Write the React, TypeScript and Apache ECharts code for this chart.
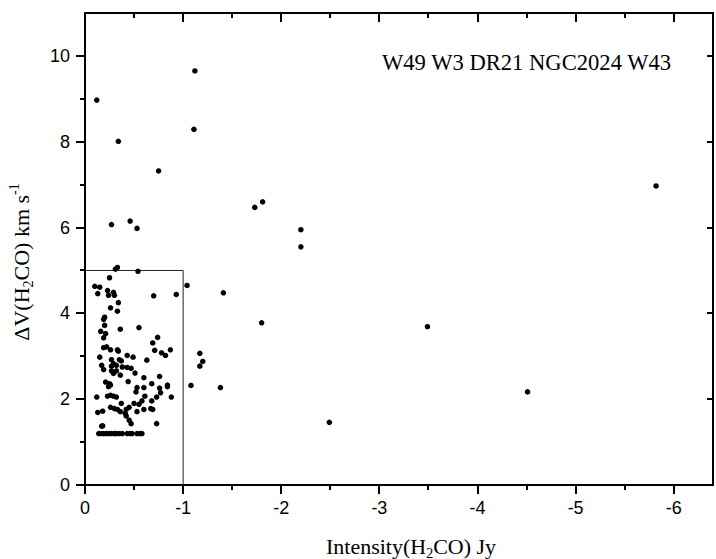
import React, { useEffect, useRef } from "react";
import * as echarts from "echarts";

// Intensity(H2CO) in Jy (negative, absorption) and line width in km/s
const intensityJy = [
  -0.12, -1.12, -1.11, -0.34, -0.75, -0.27, -0.46, -0.53, -1.73, -1.81, -2.2, -2.2, -5.82,
  -1.41, -1.8, -3.49, -1.2, -1.17, -1.17, -1.38, -4.51, -2.49, -1.08,
  -0.31, -0.33, -0.54, -0.25, -1.04, -0.1, -0.15, -0.13, -0.23, -0.29, -0.24, -0.3, -0.7, -0.93,
  -0.34, -0.26, -0.33, -0.2, -0.19, -0.2, -0.36, -0.55, -0.16, -0.21, -0.19, -0.74, -0.69,
  -0.19, -0.22, -0.26, -0.33, -0.34, -0.71, -0.78, -0.82, -0.87, -0.43, -0.49, -0.15,
  -0.27, -0.29, -0.35, -0.37, -0.63, -0.17, -0.27, -0.32, -0.38, -0.43, -0.47, -0.19,
  -0.27, -0.32, -0.29, -0.36, -0.51, -0.6, -0.76, -0.21, -0.25, -0.44, -0.68, -0.24, -0.26,
  -0.53, -0.6, -0.76, -0.84, -0.84, -0.52, -0.77, -0.26, -0.29, -0.32, -0.23, -0.12, -0.61,
  -0.73, -0.88, -0.58, -0.55, -0.5, -0.68, -0.37, -0.26, -0.3, -0.33, -0.36, -0.41, -0.42,
  -0.45, -0.6, -0.67, -0.13, -0.18, -0.53, -0.69, -0.42, -0.45, -0.47, -0.73, -0.18, -0.17,
  -0.14, -0.165, -0.19, -0.22, -0.245, -0.27, -0.3, -0.32, -0.35, -0.38, -0.43, -0.46, -0.48,
  -0.53, -0.56, -0.58,
];
const deltaVKms = [
  8.97, 9.65, 8.29, 8.01, 7.32, 6.07, 6.15, 5.98, 6.47, 6.6, 5.95, 5.55, 6.97,
  4.48, 3.78, 3.69, 2.88, 2.77, 3.07, 2.27, 2.17, 1.46, 2.32,
  5.03, 5.07, 4.98, 4.83, 4.65, 4.63, 4.61, 4.46, 4.53, 4.49, 4.42, 4.42, 4.41, 4.44,
  4.25, 4.13, 4.05, 3.91, 3.86, 3.72, 3.63, 3.67, 3.58, 3.53, 3.43, 3.44, 3.31,
  3.2, 3.22, 3.15, 3.15, 3.12, 3.14, 3.08, 3.02, 3.15, 3.02, 2.98, 2.98,
  2.92, 2.83, 2.92, 2.89, 2.91, 2.79, 2.77, 2.79, 2.75, 2.74, 2.72, 2.69,
  2.66, 2.66, 2.6, 2.56, 2.61, 2.5, 2.53, 2.4, 2.36, 2.41, 2.36, 2.29, 2.33,
  2.27, 2.27, 2.26, 2.29, 2.33, 2.17, 2.15, 2.09, 2.07, 2.05, 2.07, 2.05, 2.07,
  2.05, 2.05, 1.96, 1.88, 1.9, 1.96, 1.9, 1.81, 1.78, 1.76, 1.71, 1.67, 1.76,
  1.81, 1.76, 1.78, 1.69, 1.72, 1.71, 1.76, 1.61, 1.51, 1.43, 1.43, 1.38, 1.37,
  1.2, 1.2, 1.2, 1.2, 1.2, 1.2, 1.2, 1.2, 1.2, 1.2, 1.2, 1.2, 1.2,
  1.2, 1.2, 1.2,
];

// Selection box (intensity, deltaV corners)
const boxIntensity = [0, -1, -1];
const boxDeltaV = [5, 5, 0];

// Tick positions (|intensity| in Jy along x, deltaV along y)
const xMajorTicks = [0, 1, 2, 3, 4, 5, 6];
const xMinorTicks = [0.5, 1.5, 2.5, 3.5, 4.5, 5.5];
const yMajorTicks = [0, 2, 4, 6, 8, 10];
const yMinorTicks = [1, 3, 5, 7, 9];

const sourcesLabel = "W49 W3 DR21 NGC2024 W43";
const X_MAX = 6.4;
const Y_MAX = 11;

export default function App() {
  const ref = useRef<HTMLDivElement>(null);
  useEffect(() => {
    if (!ref.current) return;
    const chart = echarts.init(ref.current, null, { renderer: "svg" });
    const black = "#000";
    const lineW = 2;
    const sans = "'Liberation Sans', Arial, sans-serif";
    const serif = "'Liberation Serif', 'Times New Roman', serif";
    const fmtX = (v: number) => (v > 6.2 ? "" : v === 0 ? "0" : "-" + v);
    const fmtY = (v: number) => (v > 10.5 ? "" : String(v));
    const axisLine = { show: true, onZero: false, lineStyle: { color: black, width: lineW } };
    const baseX: any = {
      type: "value",
      min: 0,
      max: X_MAX,
      interval: 1,
      splitLine: { show: false },
      axisLine,
      axisTick: { show: false },
      axisLabel: { show: false },
    };
    const baseY: any = {
      type: "value",
      min: 0,
      max: Y_MAX,
      interval: 2,
      splitLine: { show: false },
      axisLine,
      axisTick: { show: false },
      axisLabel: { show: false },
    };
    // tick items: [x, y, direction (0 = down, 1 = left), length]
    const tickData: number[][] = [];
    xMajorTicks.forEach((v) => {
      tickData.push([v, 0, 0, 9]);
      tickData.push([v, Y_MAX, 0, 9]);
    });
    xMinorTicks.forEach((v) => {
      tickData.push([v, 0, 0, 5]);
      tickData.push([v, Y_MAX, 0, 5]);
    });
    yMajorTicks.forEach((v) => {
      tickData.push([0, v, 1, 9]);
      tickData.push([X_MAX, v, 1, 6]);
    });
    yMinorTicks.forEach((v) => tickData.push([0, v, 1, 5]));

    const tickRect = (px: number, py: number, dir: number, len: number) =>
      dir === 0
        ? { x: px - lineW / 2, y: py, width: lineW, height: len }
        : { x: px - len, y: py - lineW / 2, width: len, height: lineW };

    const rich = {
      n: { fontFamily: serif, fontSize: 22, color: black, lineHeight: 28 },
      s: { fontFamily: serif, fontSize: 14, color: black, lineHeight: 14, verticalAlign: "bottom" },
      p: { fontFamily: serif, fontSize: 14, color: black, lineHeight: 14, verticalAlign: "top" },
    };
    const textGraphics = [
      {
        type: "text",
        x: 382,
        y: 62,
        style: {
          text: sourcesLabel,
          fontFamily: serif,
          fontSize: 22.6,
          fill: black,
          align: "left",
          verticalAlign: "middle",
        },
      },
      {
        type: "text",
        x: 411,
        y: 546,
        style: {
          text: "{n|Intensity(H}{s|2}{n|CO) Jy}",
          rich,
          align: "center",
          verticalAlign: "middle",
        },
      },
      {
        type: "text",
        x: 21,
        y: 262,
        rotation: Math.PI / 2,
        style: {
          text: "{n|\u0394V(H}{s|2}{n|CO) km s}{p|-1}",
          rich,
          align: "center",
          verticalAlign: "middle",
        },
      },
    ];
    chart.setOption({
      animation: false,
      grid: { left: 85, right: 1, top: 13, bottom: 74 },
      xAxis: [
        {
          ...baseX,
          position: "bottom",
          axisLabel: { show: true, formatter: fmtX, fontFamily: sans, fontSize: 18, color: black, margin: 14 },
        },
        { ...baseX, position: "top" },
      ],
      yAxis: [
        {
          ...baseY,
          position: "left",
          axisLabel: { show: true, formatter: fmtY, fontFamily: sans, fontSize: 18, color: black, margin: 15 },
        },
        { ...baseY, position: "right" },
      ],
      series: [
        {
          type: "line",
          xAxisIndex: 0,
          yAxisIndex: 0,
          data: boxIntensity.map((x, i) => [-x, boxDeltaV[i]]),
          symbol: "none",
          lineStyle: { color: "#222", width: 1 },
          silent: true,
          z: 1,
        },
        {
          type: "scatter",
          xAxisIndex: 0,
          yAxisIndex: 0,
          data: intensityJy.map((x, i) => [-x, deltaVKms[i]]),
          symbol: "circle",
          symbolSize: 5.5,
          itemStyle: { color: black, opacity: 1 },
          z: 2,
        },
        {
          type: "custom",
          xAxisIndex: 0,
          yAxisIndex: 0,
          silent: true,
          clip: false,
          z: 3,
          dimensions: ["x", "y", "dir", "len"],
          encode: { x: 0, y: 1 },
          data: tickData,
          renderItem: (params: any, api: any) => {
            const p = api.coord([api.value(0), api.value(1)]);
            return {
              type: "rect",
              shape: tickRect(Math.round(p[0]), Math.round(p[1]), api.value(2), api.value(3)),
              style: { fill: black },
            };
          },
        },
      ],
      graphic: textGraphics,
    });
    // Same ticks again as graphic rects positioned through the chart's own coordinate conversion
    const tickGraphics = tickData.map((t) => {
      const p = chart.convertToPixel({ gridIndex: 0 }, [t[0], t[1]]) as number[];
      return {
        type: "rect",
        silent: true,
        z: 100,
        shape: tickRect(Math.round(p[0]), Math.round(p[1]), t[2], t[3]),
        style: { fill: black },
      };
    });
    chart.setOption({ graphic: [...textGraphics, ...tickGraphics] }, { replaceMerge: ["graphic"] });
    return () => chart.dispose();
  }, []);
  return <div ref={ref} style={{ width: 716, height: 559, position: "absolute", left: 0, top: 0 }} />;
}
